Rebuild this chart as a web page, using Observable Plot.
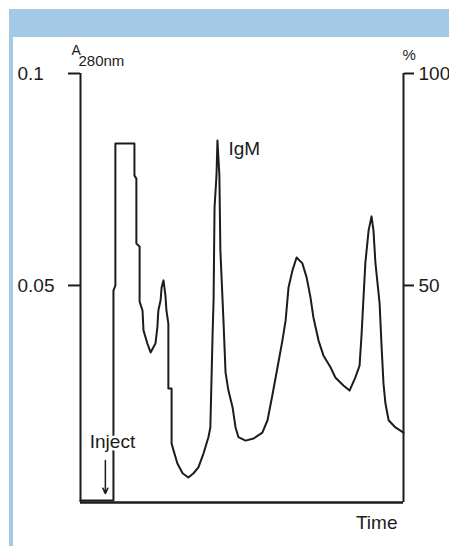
<!DOCTYPE html>
<html>
<head>
<meta charset="utf-8">
<script src="https://cdn.jsdelivr.net/npm/d3@7"></script>
<script src="https://cdn.jsdelivr.net/npm/@observablehq/plot@0.6"></script>
<style>
  html, body { margin: 0; padding: 0; background: #fff; }
  #wrap { position: relative; width: 449px; height: 546px; overflow: hidden; }
  #wrap svg { position: absolute; left: 0; top: 0; }
  .band { position: absolute; background: #a3c9e5; }
</style>
</head>
<body>
<div id="wrap">
  <div class="band" style="left:9px;top:9px;width:440px;height:28px;"></div>
  <div class="band" style="left:9px;top:9px;width:4px;height:537px;"></div>
</div>
<script>
// Elution time (arbitrary units, 0–100) and absorbance at 280 nm
const time = [0, 9.9, 10.2, 10.2, 10.8, 10.8, 16.7, 16.7, 17.3, 17.3, 18.3, 18.3, 19.2, 19.5, 20.7, 21.7,
  23.2, 23.8, 24.1, 24.8, 25.1, 25.7, 26.3, 26.6, 27.2, 27.2, 28.2, 28.2, 28.8, 30.0, 31.6, 33.4,
  35.0, 36.5, 38.1, 39.6, 40.2, 40.9, 41.2, 41.5, 42.1, 42.4, 43.0, 43.3, 44.3, 44.9, 45.8, 47.1,
  48.0, 48.9, 51.1, 53.6, 56.3, 57.9, 59.4, 61.0, 62.5, 63.5, 64.4, 65.6, 66.9, 68.7, 70.0, 71.2,
  72.1, 73.7, 75.2, 77.4, 78.9, 81.4, 83.3, 85.1, 86.4, 87.0, 87.6, 88.2, 89.2, 90.1, 90.7, 91.3,
  92.6, 93.2, 93.8, 94.4, 95.4, 97.5, 100];
const absorbance = [-0.0007, -0.0007, -0.0007, 0.0488, 0.0500, 0.0835, 0.0835, 0.0759, 0.0752, 0.0599, 0.0592, 0.0462, 0.0441, 0.0394, 0.0363, 0.0342,
  0.0363, 0.0401, 0.0441, 0.0465, 0.0495, 0.0512, 0.0476, 0.0441, 0.0410, 0.0257, 0.0257, 0.0127, 0.0111, 0.0080, 0.0057, 0.0047,
  0.0057, 0.0071, 0.0104, 0.0142, 0.0165, 0.0387, 0.0465, 0.0684, 0.0759, 0.0842, 0.0759, 0.0583, 0.0410, 0.0295, 0.0252, 0.0212,
  0.0165, 0.0142, 0.0134, 0.0139, 0.0153, 0.0182, 0.0241, 0.0307, 0.0370, 0.0417, 0.0495, 0.0535, 0.0566, 0.0552, 0.0519, 0.0472,
  0.0425, 0.0370, 0.0335, 0.0307, 0.0283, 0.0264, 0.0252, 0.0283, 0.0311, 0.0382, 0.0469, 0.0554, 0.0630, 0.0663, 0.0630, 0.0554,
  0.0458, 0.0358, 0.0269, 0.0222, 0.0182, 0.0165, 0.0153];

const xDomain = [0, 100];
const yDomain = [-0.0012, 0.1];
const leftTicks = [0.05, 0.1];
const leftTickLabels = ["0.05", "0.1"];
const rightTicks = [0.05, 0.1];
const rightTickLabels = ["50", "100"];

const peakLabels = [{t: 45.8, a: 0.0823, text: "IgM"}];
const injectLabel = [{t: 9.9, a: 0.0130, text: "Inject"}];
const injectArrow = [{t: 7.7, a1: 0.0087, a2: 0.0009}];
const yTitle = "A";
const yTitleSub = "280nm";
const y2Title = "%";
const xTitle = "Time";

const data = time.map((t, i) => ({t, a: absorbance[i]}));
const ink = "#1c1c1c";
const font = "Liberation Sans, Arial, Helvetica, sans-serif";

const chart = Plot.plot({
  width: 449,
  height: 546,
  marginLeft: 80,
  marginRight: 46,
  marginTop: 73,
  marginBottom: 44,
  style: {fontFamily: font, fontSize: "19px", color: ink, background: "transparent", overflow: "visible"},
  x: {domain: xDomain, axis: null},
  y: {domain: yDomain, axis: null},
  marks: [
    Plot.ruleX([xDomain[0], xDomain[1]], {stroke: ink, strokeWidth: 2}),
    Plot.ruleY([yDomain[0]], {stroke: ink, strokeWidth: 2.5}),
    Plot.axisY({anchor: "left", ticks: leftTicks, tickSize: 12, tickFormat: () => "", stroke: ink, strokeWidth: 2}),
    Plot.axisY({anchor: "right", ticks: rightTicks, tickSize: 10, tickPadding: 5, strokeWidth: 2, stroke: ink,
      tickFormat: d => rightTickLabels[rightTicks.indexOf(d)], fontSize: 19, fill: ink}),
    Plot.text(leftTicks, {y: d => d, text: (d, i) => leftTickLabels[i], frameAnchor: "left", textAnchor: "start", dx: -63, fontSize: 19, fill: ink}),
    Plot.line(data, {x: "t", y: "a", stroke: ink, strokeWidth: 2, curve: "linear"}),
    Plot.text(injectLabel, {x: "t", y: "a", text: "text", fontSize: 19, fill: ink, stroke: "white", strokeWidth: 5, paintOrder: "stroke"}),
    Plot.arrow(injectArrow, {x1: "t", x2: "t", y1: "a1", y2: "a2", stroke: ink, strokeWidth: 1.5, headLength: 6, headAngle: 50}),
    Plot.text(peakLabels, {x: "t", y: "a", text: "text", textAnchor: "start", fontSize: 19, fill: ink}),
    Plot.text([yTitle], {frameAnchor: "top-left", text: d => d, textAnchor: "start", dx: -9, dy: -28, fontSize: 14, fill: ink}),
    Plot.text([yTitleSub], {frameAnchor: "top-left", text: d => d, textAnchor: "start", dx: -2, dy: -18, fontSize: 15, fill: ink}),
    Plot.text([y2Title], {frameAnchor: "top-right", text: d => d, textAnchor: "start", dx: -1, dy: -24, fontSize: 15, fill: ink}),
    Plot.text([xTitle], {frameAnchor: "bottom-right", text: d => d, textAnchor: "end", dx: -6, dy: 26, fontSize: 19, fill: ink})
  ]
});
document.getElementById("wrap").prepend(chart);
</script>
</body>
</html>
